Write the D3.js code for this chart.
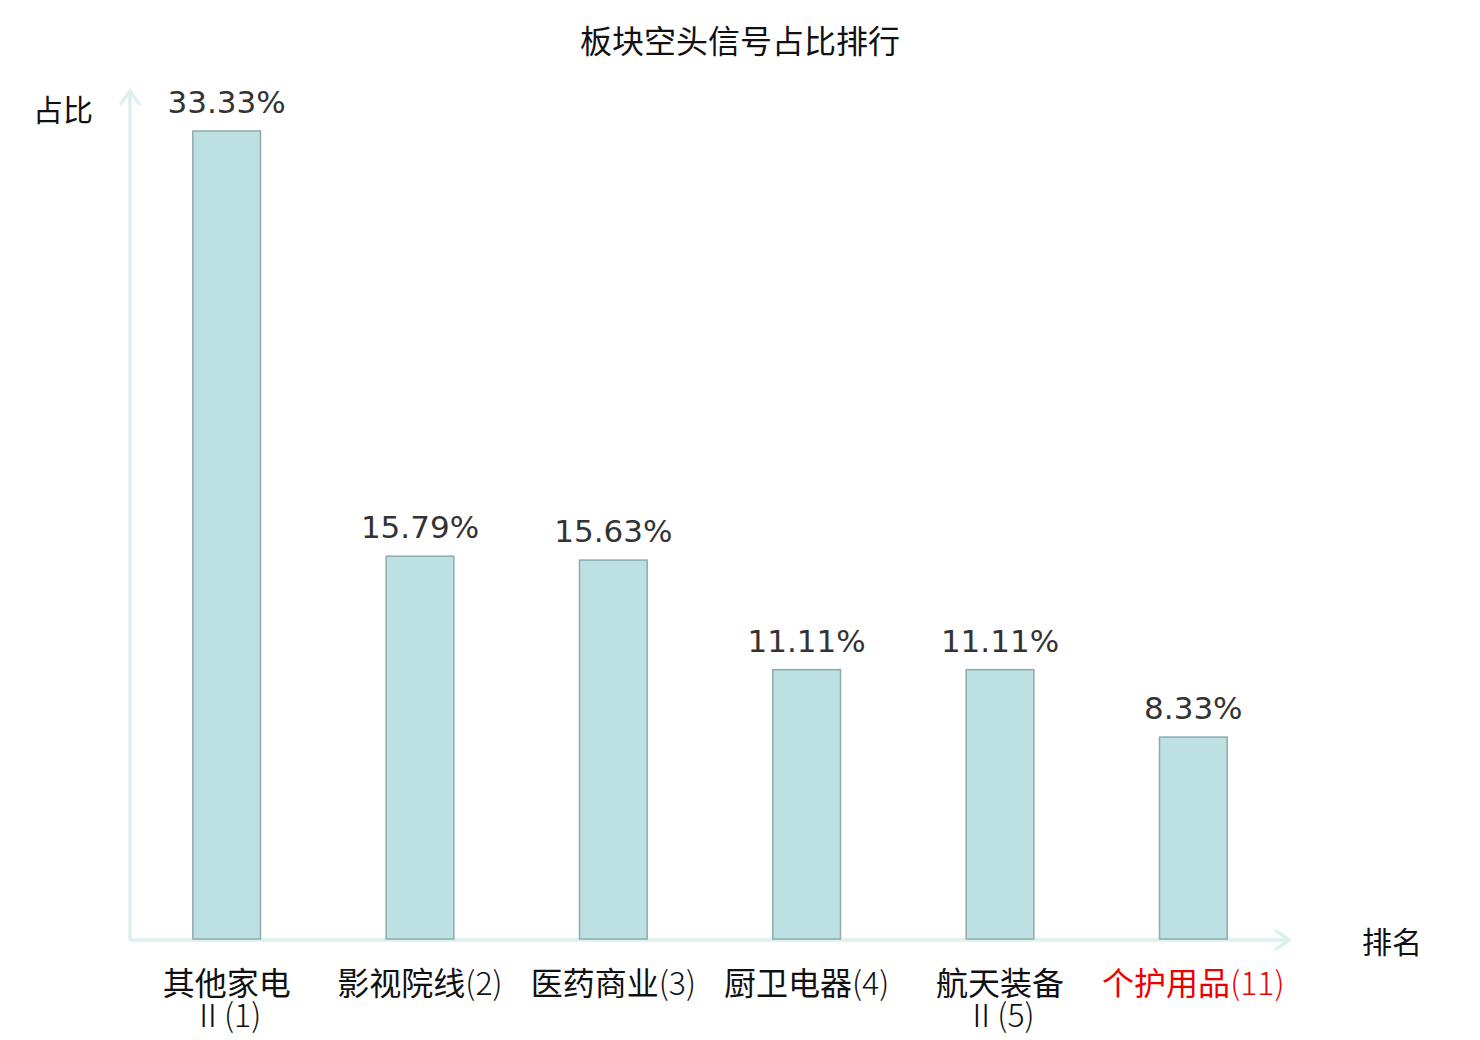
<!DOCTYPE html>
<html>
<head>
<meta charset="utf-8">
<script src="https://cdn.jsdelivr.net/npm/d3@7"></script>
<style>
  body { margin: 0; background: #fff; }
  text { font-family: "DejaVu Sans", "Noto Sans CJK SC", sans-serif; }
  .cjk { font-family: "Noto Sans CJK SC", sans-serif; }
</style>
</head>
<body>
<svg id="chart"></svg>
<script>
// data
var categories = ["其他家电Ⅱ(1)", "影视院线(2)", "医药商业(3)", "厨卫电器(4)", "航天装备Ⅱ(5)", "个护用品(11)"]
var labelNames = [["其他家电", ""], ["影视院线"], ["医药商业"], ["厨卫电器"], ["航天装备", ""], ["个护用品"]]
var labelRanks = [["", "Ⅱ(1)"], ["(2)"], ["(3)"], ["(4)"], ["", "Ⅱ(5)"], ["(11)"]]
var values = [33.33, 15.79, 15.63, 11.11, 11.11, 8.33]
var highlighted = [false, false, false, false, false, true]

var width = 1480, height = 1040
var svg = d3.select("#chart").attr("width", width).attr("height", height)

//chart area
var x0 = 130, x1 = 1290, yBase = 939, yTop = 90

var x = d3.scaleBand()
          .domain(categories)
          .range([x0, x1])
          .paddingInner(0.65)
          .paddingOuter(0.325)

var y = d3.scaleLinear()
          .domain([0, d3.max(values)])
          .range([yBase, 131])

var axisColor = "#dcf1ee"

//title
svg.append("text")
   .attr("class", "cjk")
   .attr("x", 740).attr("y", 53)
   .attr("text-anchor", "middle")
   .attr("font-size", 32)
   .attr("fill", "#111")
   .text("板块空头信号占比排行")

//axes
svg.append("line")
   .attr("x1", x0).attr("y1", yBase + 1).attr("x2", x0).attr("y2", yTop + 2)
   .attr("stroke", axisColor).attr("stroke-width", 3.5)
svg.append("path")
   .attr("d", `M${x0 - 10},${yTop + 15} L${x0},${yTop + 1} L${x0 + 10},${yTop + 15}`)
   .attr("fill", "none").attr("stroke", axisColor).attr("stroke-width", 3.5)

svg.append("line")
   .attr("x1", x0).attr("y1", yBase + 1).attr("x2", x1 - 2).attr("y2", yBase + 1)
   .attr("stroke", axisColor).attr("stroke-width", 3.5)
svg.append("path")
   .attr("d", `M${x1 - 15},${yBase - 9} L${x1 - 1},${yBase + 1} L${x1 - 15},${yBase + 11}`)
   .attr("fill", "none").attr("stroke", axisColor).attr("stroke-width", 3.5)

//axis names
svg.append("text").attr("class", "cjk")
   .attr("x", 63).attr("y", 121)
   .attr("text-anchor", "middle").attr("font-size", 30).attr("fill", "#111")
   .text("占比")
svg.append("text").attr("class", "cjk")
   .attr("x", 1392).attr("y", 953)
   .attr("text-anchor", "middle").attr("font-size", 30).attr("fill", "#111")
   .text("排名")

//bars
svg.append("g")
   .selectAll("rect")
   .data(values)
   .enter()
   .append("rect")
   .attr("x", (d, i) => x(categories[i]))
   .attr("y", d => y(d))
   .attr("width", x.bandwidth())
   .attr("height", d => yBase - y(d))
   .attr("fill", "#bde0e3")
   .attr("stroke", "#8eaaac")
   .attr("stroke-width", 1.5)

//value labels
svg.append("g")
   .selectAll("text")
   .data(values)
   .enter()
   .append("text")
   .attr("x", (d, i) => x(categories[i]) + x.bandwidth() / 2)
   .attr("y", d => y(d) - 18)
   .attr("text-anchor", "middle")
   .attr("font-size", 31)
   .attr("fill", "#333")
   .text(d => d.toFixed(2) + "%")

//category labels, one text per line
var catGroup = svg.append("g")
categories.forEach((d, i) => {
    var cx = x(d) + x.bandwidth() / 2
    var color = highlighted[i] ? "#ee0000" : "#111"
    labelNames[i].forEach((name, j) => {
        var t = catGroup.append("text")
                        .attr("class", "cjk")
                        .attr("x", cx)
                        .attr("y", 995 + j * 32)
                        .attr("text-anchor", "middle")
                        .attr("font-size", 32)
                        .attr("fill", color)
        if (name) t.append("tspan").text(name)
        if (labelRanks[i][j]) t.append("tspan").attr("font-weight", 300).text(labelRanks[i][j])
    })
})
</script>
</body>
</html>
